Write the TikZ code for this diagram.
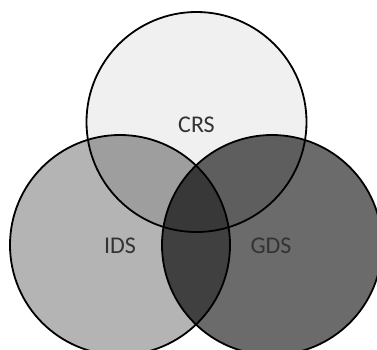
\documentclass[tikz,border=0pt]{standalone}
\usepackage{fontspec}
\setmainfont{Carlito}
\definecolor{crsfill}{HTML}{F0F0F0}
\definecolor{idsfill}{HTML}{B4B4B4}
\definecolor{gdsfill}{HTML}{6B6B6B}
\definecolor{crsids}{HTML}{9E9E9E}
\definecolor{crsgds}{HTML}{5E5E5E}
\definecolor{idsgds}{HTML}{404040}
\definecolor{allthree}{HTML}{383838}
\definecolor{labelgray}{HTML}{333333}
\begin{document}
\begin{tikzpicture}[x=1pt,y=-1pt,
  ring/.style={draw=black,line width=1.8pt},
  setlabel/.style={text=labelgray,font=\fontsize{24}{28}\selectfont,inner sep=0pt}]
\useasboundingbox (0,0) rectangle (377,349);
\coordinate (c) at (196.5,122);
\coordinate (i) at (120,245);
\coordinate (g) at (272,245);
\def\rad{110}
% single-set fills
\fill[crsfill] (c) circle (\rad);
\fill[idsfill] (i) circle (\rad);
\fill[gdsfill] (g) circle (\rad);
% pairwise overlaps
\begin{scope}
  \clip (c) circle (\rad);
  \fill[crsids] (i) circle (\rad);
  \fill[crsgds] (g) circle (\rad);
\end{scope}
\begin{scope}
  \clip (i) circle (\rad);
  \fill[idsgds] (g) circle (\rad);
  \clip (g) circle (\rad);
  \fill[allthree] (c) circle (\rad);
\end{scope}
% outlines
\draw[ring] (c) circle (\rad);
\draw[ring] (i) circle (\rad);
\draw[ring] (g) circle (\rad);
% labels
\node[setlabel] (crs) at (196.5,125) {CRS};
\node[setlabel] (ids) at (120,246) {IDS};
\node[setlabel] (gds) at (271,246) {GDS};
\end{tikzpicture}
\end{document}
